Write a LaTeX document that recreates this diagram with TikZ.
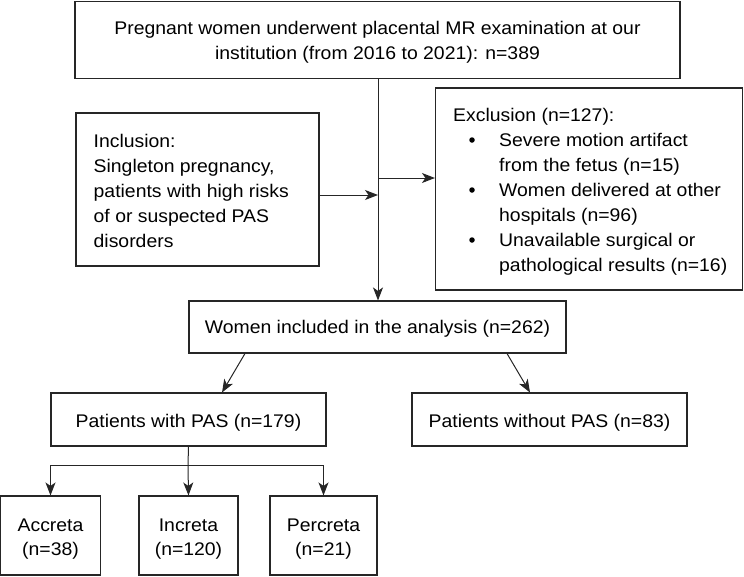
\documentclass[tikz,border=0pt]{standalone}
\usepackage{fontspec}
\setmainfont[FakeStretch=1.06]{Liberation Sans}
\usetikzlibrary{arrows.meta}
\begin{document}
\begin{tikzpicture}[x=1pt,y=-1pt,
  box/.style={draw=black!85,line width=1.1pt,inner sep=0pt,rectangle},
  txt/.style={inner sep=0pt,font=\fontsize{18.3}{25}\selectfont},
  lt/.style={txt,anchor=base west},
  ct/.style={txt,anchor=base},
  dot/.style={circle,fill=black,inner sep=0pt,minimum size=5.5pt},
  arr/.style={-{Stealth[length=13pt,width=10pt,inset=3.5pt]},line width=1pt,draw=black!85},
  ln/.style={line width=1pt,draw=black!85}]
\useasboundingbox (0,0) rectangle (744,576);
% boxes
\node[box,minimum width=605pt,minimum height=77pt] (top) at (377.5,40) {};
\node[ct] (t1) at (377.5,34) {Pregnant women underwent placental MR examination at our};
\node[ct] (t2) at (377.5,59) {institution (from 2016 to 2021): n=389};
\node[box,minimum width=243pt,minimum height=153pt] (inc) at (197.5,189.5) {};
\node[lt] (i1) at (93.5,147) {Inclusion:};
\node[lt] (i2) at (93.5,172) {Singleton pregnancy,};
\node[lt] (i3) at (93.5,197) {patients with high risks};
\node[lt] (i4) at (93.5,222) {of or suspected PAS};
\node[lt] (i5) at (93.5,247) {disorders};
\node[box,minimum width=307pt,minimum height=202pt] (exc) at (589,189) {};
\node[lt] (e0) at (453,121) {Exclusion (n=127):};
\node[lt] (e1) at (499,146) {Severe motion artifact};
\node[lt] (e2) at (499,171) {from the fetus (n=15)};
\node[lt] (e3) at (499,196) {Women delivered at other};
\node[lt] (e4) at (499,221) {hospitals (n=96)};
\node[lt] (e5) at (499,246) {Unavailable surgical or};
\node[lt] (e6) at (499,271) {pathological results (n=16)};
\node[dot] (d1) at (472,140) {};
\node[dot] (d2) at (472,190) {};
\node[dot] (d3) at (472,240) {};
\node[box,minimum width=377pt,minimum height=52pt] (women) at (377.5,327) {};
\node[ct] (wt) at (377.5,333) {Women included in the analysis (n=262)};
\node[box,minimum width=275pt,minimum height=53pt] (pas) at (188.5,419.5) {};
\node[ct] (pt) at (188.5,427) {Patients with PAS (n=179)};
\node[box,minimum width=275pt,minimum height=53pt] (nopas) at (549.5,419.5) {};
\node[ct] (npt) at (549.5,427) {Patients without PAS (n=83)};
\node[box,minimum width=100pt,minimum height=79pt] (acc) at (50.5,535.5) {};
\node[ct] (a1) at (50.5,531) {Accreta};
\node[ct] (a2) at (50.5,555) {(n=38)};
\node[box,minimum width=99pt,minimum height=79pt] (incr) at (188.5,535.5) {};
\node[ct] (n1) at (188.5,531) {Increta};
\node[ct] (n2) at (188.5,555) {(n=120)};
\node[box,minimum width=107pt,minimum height=79pt] (perc) at (323.5,535.5) {};
\node[ct] (p1) at (323.5,531) {Percreta};
\node[ct] (p2) at (323.5,555) {(n=21)};
% connectors
\coordinate (j1) at (378,195);
\coordinate (j2) at (378,178);
\draw[arr] (top.south -| j1) -- (women.north -| j1);
\draw[arr] (inc.east |- j1) -- (j1);
\draw[arr] (j2) -- (exc.west |- j2);
\draw[arr] (245,353.5) -- (222,392.5);
\draw[arr] (507,353.5) -- (530,392.5);
\coordinate (t) at (188,465);
\draw[ln] (pas.south) -- (t);
\draw[ln] (acc.north |- t) -- (perc.north |- t);
\draw[arr] (acc.north |- t) -- (acc.north);
\draw[arr] (t) -- (incr.north);
\draw[arr] (perc.north |- t) -- (perc.north);
\end{tikzpicture}
\end{document}
